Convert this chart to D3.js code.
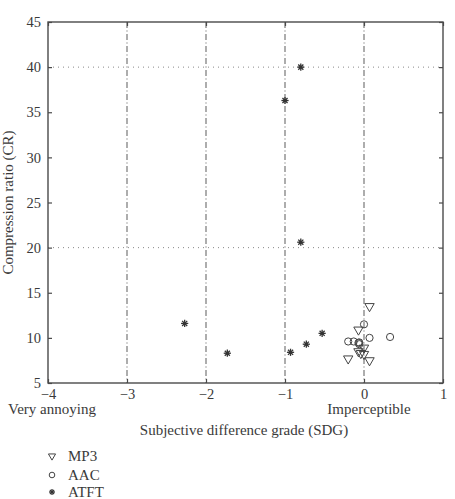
<!DOCTYPE html>
<html><head><meta charset="utf-8">
<script src="https://cdn.jsdelivr.net/npm/d3@7"></script>
<style>
body{margin:0;background:#fff;}
text{font-family:"Liberation Serif","DejaVu Serif",serif;fill:#3a3a3a;}
</style></head>
<body><svg id="c" width="455" height="499"></svg>
<script>
// Data
const mp3SDG = [0.07, -0.07, -0.2, -0.07, 0.0, 0.07, 0.0, -0.04];
const mp3CR  = [13.5, 10.9, 7.7, 8.5, 8.2, 7.5, 8.9, 8.3];
const aacSDG = [0.0, -0.2, -0.13, -0.06, -0.06, -0.07, 0.07, 0.33];
const aacCR  = [11.5, 9.6, 9.6, 9.5, 9.3, 9.45, 10.0, 10.1];
const atftSDG = [-2.27, -1.73, -1.0, -0.93, -0.8, -0.8, -0.73, -0.53];
const atftCR  = [11.6, 8.3, 36.3, 8.4, 40.0, 20.6, 9.3, 10.5];
const xTicks = [-4, -3, -2, -1, 0, 1];
const yTicks = [5, 10, 15, 20, 25, 30, 35, 40, 45];
const vGrid = [-3, -2, -1, 0];
const hGrid = [20, 40];
const seriesNames = ["MP3", "AAC", "ATFT"];

const svg = d3.select("#c");
const L = 48, R = 443, T = 22, B = 383;
const x = d3.scaleLinear().domain([-4, 1]).range([L, R]);
const y = d3.scaleLinear().domain([5, 45]).range([B, T]);
const axisColor = "#4a4a4a";
const fs = "14.5px";

// grid
svg.selectAll(".vg").data(vGrid).enter().append("line")
  .attr("x1", d => x(d)).attr("x2", d => x(d)).attr("y1", T).attr("y2", B)
  .attr("stroke", "#777").attr("stroke-width", 1.2).attr("stroke-dasharray", "6,2.5,1,2.5");
svg.selectAll(".hg").data(hGrid).enter().append("line")
  .attr("x1", L).attr("x2", R).attr("y1", d => y(d)).attr("y2", d => y(d))
  .attr("stroke", "#888").attr("stroke-width", 1).attr("stroke-dasharray", "1,4");

// axes with inward ticks
const tk = 4;
const gB = svg.append("g").attr("transform", `translate(0,${B})`)
  .call(d3.axisBottom(x).tickValues(xTicks).tickSizeInner(-tk).tickSizeOuter(0).tickPadding(8)
    .tickFormat(d => d < 0 ? "\u2212" + Math.abs(d) : d));
const gL = svg.append("g").attr("transform", `translate(${L},0)`)
  .call(d3.axisLeft(y).tickValues(yTicks).tickSizeInner(-tk).tickSizeOuter(0).tickPadding(7));
const gT = svg.append("g").attr("transform", `translate(0,${T})`)
  .call(d3.axisTop(x).tickValues(xTicks).tickSizeInner(-tk).tickSizeOuter(0).tickFormat(""));
const gR = svg.append("g").attr("transform", `translate(${R},0)`)
  .call(d3.axisRight(y).tickValues(yTicks).tickSizeInner(-tk).tickSizeOuter(0).tickFormat(""));
[gB, gL, gT, gR].forEach(g => {
  g.select(".domain").remove();
  g.selectAll("line").attr("stroke", axisColor).attr("stroke-width", 1.2);
  g.selectAll("text").attr("font-size", fs).style("font-family", "Liberation Serif, serif").attr("fill", "#3a3a3a");
});
gB.selectAll("text").attr("dy", "0.55em");
svg.append("rect").attr("x", L).attr("y", T).attr("width", R - L).attr("height", B - T)
  .attr("fill", "none").attr("stroke", axisColor).attr("stroke-width", 1.4);

// marker shapes
function drawTri(g, cx, cy, s) {
  g.append("path").attr("d", d3.symbol().type(d3.symbolTriangle).size(s)())
    .attr("transform", `translate(${cx},${cy}) rotate(180)`)
    .attr("fill", "none").attr("stroke", "#444").attr("stroke-width", 1);
}
function drawCirc(g, cx, cy, r) {
  g.append("circle").attr("cx", cx).attr("cy", cy).attr("r", r)
    .attr("fill", "none").attr("stroke", "#444").attr("stroke-width", 1);
}
function drawStar(g, cx, cy, r) {
  for (let k = 0; k < 4; k++) {
    const a = k * Math.PI / 4;
    g.append("line").attr("x1", cx - r * Math.cos(a)).attr("y1", cy - r * Math.sin(a))
      .attr("x2", cx + r * Math.cos(a)).attr("y2", cy + r * Math.sin(a))
      .attr("stroke", "#333").attr("stroke-width", 1.3);
  }
  g.append("circle").attr("cx", cx).attr("cy", cy).attr("r", r * 0.45).attr("fill", "#333");
}
const pts = svg.append("g");
mp3SDG.forEach((v, i) => drawTri(pts, x(v), y(mp3CR[i]), 38));
aacSDG.forEach((v, i) => drawCirc(pts, x(v), y(aacCR[i]), 3.6));
atftSDG.forEach((v, i) => drawStar(pts, x(v), y(atftCR[i]), 3.6));

// labels
svg.append("text").attr("x", 8).attr("y", 414).attr("font-size", "15px").text("Very annoying");
svg.append("text").attr("x", 369).attr("y", 414).attr("text-anchor", "middle").attr("font-size", "15px").text("Imperceptible");
svg.append("text").attr("x", 244).attr("y", 435).attr("text-anchor", "middle").attr("font-size", "15px").text("Subjective difference grade (SDG)");
svg.append("text").attr("transform", `translate(13,${(T + B) / 2}) rotate(-90)`).attr("text-anchor", "middle")
  .attr("font-size", "15px").text("Compression ratio (CR)");

// legend
const lg = svg.append("g");
const ly = [456, 475, 492];
drawTri(lg, 52, ly[0], 22);
drawCirc(lg, 52, ly[1], 2.8);
drawStar(lg, 52, ly[2], 3.0);
seriesNames.forEach((n, i) => {
  lg.append("text").attr("x", 68).attr("y", ly[i] + 5).attr("font-size", "15px").text(n);
});
</script></body></html>
